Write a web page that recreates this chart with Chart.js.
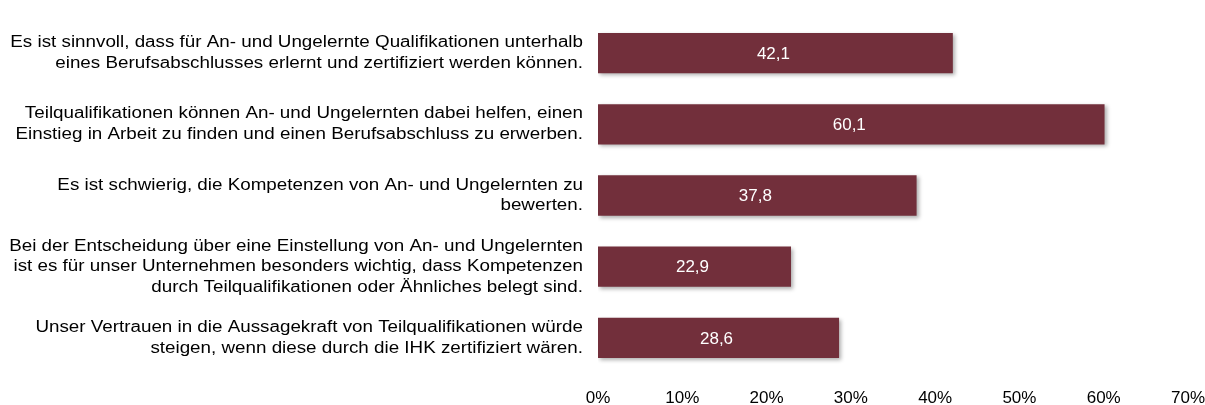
<!DOCTYPE html>
<html>
<head>
<meta charset="utf-8">
<script src="https://cdn.jsdelivr.net/npm/chart.js@4"></script>
<style>
html,body{margin:0;padding:0;background:#fff;}
#wrap{width:1205px;height:405px;position:relative;}
</style>
</head>
<body>
<div id="wrap"><canvas id="c" width="1205" height="405"></canvas></div>
<script>
const categories = [
  ["Es ist sinnvoll, dass für An- und Ungelernte Qualifikationen unterhalb", "eines Berufsabschlusses erlernt und zertifiziert werden können."],
  ["Teilqualifikationen können An- und Ungelernten dabei helfen, einen", "Einstieg in Arbeit zu finden und einen Berufsabschluss zu erwerben."],
  ["Es ist schwierig, die Kompetenzen von An- und Ungelernten zu", "bewerten."],
  ["Bei der Entscheidung über eine Einstellung von An- und Ungelernten", "ist es für unser Unternehmen besonders wichtig, dass Kompetenzen", "durch Teilqualifikationen oder Ähnliches belegt sind."],
  ["Unser Vertrauen in die Aussagekraft von Teilqualifikationen würde", "steigen, wenn diese durch die IHK zertifiziert wären."]
];
const values = [42.1, 60.1, 37.8, 22.9, 28.6];
const xTicks = [0, 10, 20, 30, 40, 50, 60, 70];

const FONT = '"Liberation Sans", Arial, sans-serif';

const shadowPlugin = {
  id: 'barShadow',
  beforeDatasetsDraw(chart) {
    const ctx = chart.ctx;
    ctx.save();
    ctx.shadowColor = 'rgba(0,0,0,0.32)';
    ctx.shadowBlur = 4;
    ctx.shadowOffsetX = 2;
    ctx.shadowOffsetY = 2;
  },
  afterDatasetsDraw(chart) {
    chart.ctx.restore();
    const ctx = chart.ctx;
    const meta = chart.getDatasetMeta(0);
    ctx.save();
    ctx.fillStyle = '#ffffff';
    ctx.font = '17px ' + FONT;
    ctx.textAlign = 'center';
    ctx.textBaseline = 'middle';
    meta.data.forEach((bar, i) => {
      const v = chart.data.datasets[0].data[i];
      const cx = (bar.x + bar.base) / 2 - 2;
      ctx.fillText(v.toFixed(1).replace('.', ','), cx, bar.y + 1);
    });
    ctx.restore();
  }
};

new Chart(document.getElementById('c'), {
  type: 'bar',
  data: {
    labels: categories,
    datasets: [{
      data: values,
      backgroundColor: '#722F3B',
      borderWidth: 0,
      barPercentage: 0.565,
      categoryPercentage: 1
    }]
  },
  options: {
    indexAxis: 'y',
    responsive: false,
    animation: false,
    events: [],
    layout: { padding: { top: 17.4, right: 17, left: 0, bottom: 0 } },
    plugins: { legend: { display: false }, tooltip: { enabled: false } },
    scales: {
      x: {
        min: 0, max: 70,
        afterBuildTicks(scale) { scale.ticks = xTicks.map(v => ({ value: v })); },
        grid: { display: false, drawTicks: false },
        border: { display: false },
        ticks: {
          color: '#000',
          padding: 15,
          maxRotation: 0,
          font: { family: FONT, size: 17 },
          callback: v => v + '%'
        },
        afterFit(scale) {
          scale.height = 31.4;
          scale.paddingLeft = 0; scale.paddingRight = 0;
        }
      },
      y: {
        grid: { display: false, drawTicks: false },
        border: { display: false },
        ticks: {
          color: '#000',
          padding: 15,
          font: { family: FONT, size: 16, lineHeight: 1.29 },
        },
        afterFit(scale) {
          scale.width = 598;
          scale.paddingTop = 0; scale.paddingBottom = 0;
          if (!scale._stretched) {
            scale._stretched = true;
            const orig = Object.getPrototypeOf(scale).drawLabels;
            scale.drawLabels = function (area) {
              const ctx = this.ctx;
              const ax = this.right - this.options.ticks.padding;
              ctx.save();
              ctx.translate(ax, 0);
              ctx.scale(1.175, 1);
              ctx.translate(-ax, 0);
              orig.call(this, area);
              ctx.restore();
            };
          }
        }
      }
    }
  },
  plugins: [shadowPlugin]
});
</script>
</body>
</html>
